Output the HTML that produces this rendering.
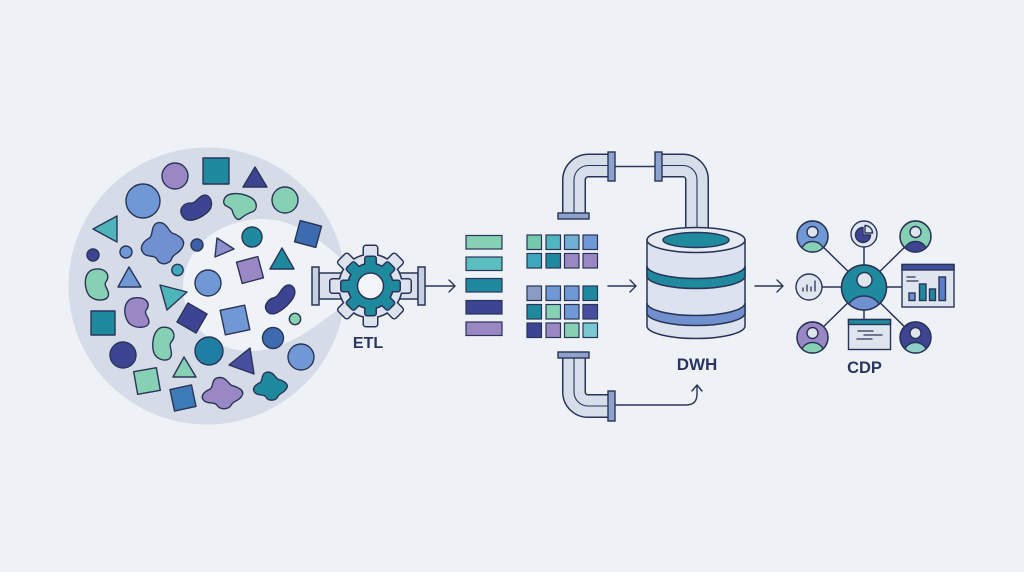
<!DOCTYPE html>
<html><head><meta charset="utf-8"><style>
html,body{margin:0;padding:0;background:#eef1f6;}
svg{display:block;}
text{font-family:"Liberation Sans",sans-serif;font-weight:bold;fill:#2b3561;}
</style></head><body>
<svg width="1024" height="572" viewBox="0 0 1024 572" xmlns="http://www.w3.org/2000/svg">
<defs>
<clipPath id="c1"><circle cx="812.5" cy="236.5" r="15.5"/></clipPath>
<clipPath id="c2"><circle cx="915.5" cy="236.5" r="15.5"/></clipPath>
<clipPath id="c3"><circle cx="812.5" cy="337.5" r="15.5"/></clipPath>
<clipPath id="c4"><circle cx="915.5" cy="337.5" r="15.5"/></clipPath>
<clipPath id="c5"><circle cx="864" cy="287.5" r="22.5"/></clipPath>
</defs>
<rect width="1024" height="572" fill="#eef1f6"/>

<!-- big source circle -->
<circle cx="207" cy="286" r="138.5" fill="#d5dce8"/>
<path d="M345,262 C320,240 295,219 262,219 C222,219 184,245 183,287 C183,325 215,352 252,351 C290,350 315,325 345,305 Z" fill="#eff2f7"/>

<!-- shapes -->
<g stroke="#2a3458" stroke-width="1.4" stroke-linejoin="round">
<circle cx="175" cy="176" r="13" fill="#9a88c4"/>
<rect x="203" y="158" width="26" height="26" fill="#1f8a9e"/>
<polygon points="255,167 243,187 267,187" fill="#3d4491"/>
<circle cx="143" cy="201" r="17" fill="#7098d4"/>
<path d="M-14,3 C-16,-6 -8,-10 -2,-6 C2,-4 6,-9 11,-8 C16,-7 17,1 12,6 C6,11 -12,12 -14,3Z" transform="translate(196,208) rotate(-25) scale(1.1,1.05)" fill="#3d4491" vector-effect="non-scaling-stroke"/>
<path d="M224,200 C226,192 240,192 250,197 C258,201 258,210 252,212 C246,214 244,216 240,219 C236,221 233,214 232,210 C230,206 222,207 224,200Z" fill="#86d0b4"/>
<circle cx="285" cy="200" r="13" fill="#86d0b4"/>
<polygon points="93,229 117,216 117,242" fill="#4db5b9"/>
<path d="M-4,-16 C3,-18 5,-10 8,-8 C14,-6 20,-2 16,4 C13,9 10,8 8,12 C6,18 -2,18 -4,13 C-6,9 -12,12 -15,8 C-19,3 -14,-2 -10,-4 C-7,-6 -9,-14 -4,-16Z" transform="translate(162,243) scale(1.25)" fill="#7090d0" vector-effect="non-scaling-stroke"/>
<circle cx="93" cy="255" r="6" fill="#3d4491"/>
<circle cx="126" cy="252" r="6" fill="#7098d4"/>
<circle cx="197" cy="245" r="6" fill="#3d5fa8"/>
<polygon points="217,238 215,257 234,249" fill="#8d8fcf"/>
<circle cx="252" cy="237" r="10" fill="#1f8a9e"/>
<rect x="-11" y="-11" width="22" height="22" transform="translate(308,234) rotate(15)" fill="#3d6bb0"/>
<circle cx="177.5" cy="270" r="5.7" fill="#3fa8bd"/>
<polygon points="282,248 270,269 294,269" fill="#1f8a9e"/>
<path d="M-14,3 C-16,-6 -8,-10 -2,-6 C2,-4 6,-9 11,-8 C16,-7 17,1 12,6 C6,11 -12,12 -14,3Z" transform="translate(98,284) rotate(90) scale(1.05,1.3)" fill="#86d0b4" vector-effect="non-scaling-stroke"/>
<polygon points="129,267 118,287 141,287" fill="#7098d4"/>
<circle cx="208" cy="283" r="13" fill="#7098d4"/>
<rect x="-11" y="-11" width="22" height="22" transform="translate(250,270) rotate(-15)" fill="#9a88c4"/>
<polygon points="160,285 187,292 167,310" fill="#4db5b9"/>
<path d="M-14,3 C-16,-6 -8,-10 -2,-6 C2,-4 6,-9 11,-8 C16,-7 17,1 12,6 C6,11 -12,12 -14,3Z" transform="translate(138,312) rotate(90) scale(1.0,1.35)" fill="#9a88c4" vector-effect="non-scaling-stroke"/>
<rect x="91" y="311" width="24" height="24" fill="#1f8a9e"/>
<rect x="-11" y="-11" width="22" height="22" transform="translate(192,318) rotate(30)" fill="#3d4491"/>
<rect x="-12.5" y="-12.5" width="25" height="25" transform="translate(235,320) rotate(-12)" fill="#7098d4"/>
<path d="M-14,3 C-16,-6 -8,-10 -2,-6 C2,-4 6,-9 11,-8 C16,-7 17,1 12,6 C6,11 -12,12 -14,3Z" transform="translate(280,300) rotate(-40) scale(1.2,0.9)" fill="#3d4491" vector-effect="non-scaling-stroke"/>
<circle cx="295" cy="319" r="5.7" fill="#86d0b4"/>
<path d="M-14,3 C-16,-6 -8,-10 -2,-6 C2,-4 6,-9 11,-8 C16,-7 17,1 12,6 C6,11 -12,12 -14,3Z" transform="translate(164,343) rotate(100) scale(1.1,1.15)" fill="#86d0b4" vector-effect="non-scaling-stroke"/>
<circle cx="209" cy="351" r="14" fill="#1f7fa3"/>
<circle cx="273" cy="338" r="10.5" fill="#3d6bb0"/>
<circle cx="123" cy="355" r="13" fill="#3d4491"/>
<polygon points="229,365 250,348 254,374" fill="#4a4e9e"/>
<circle cx="301" cy="357" r="13" fill="#7098d4"/>
<polygon points="184,357 173,377 196,377" fill="#86d0b4"/>
<rect x="-11.5" y="-11.5" width="23" height="23" transform="translate(147,381) rotate(-10)" fill="#86d0b4"/>
<rect x="-11" y="-11" width="22" height="22" transform="translate(183,398) rotate(-12)" fill="#3d7ab8"/>
<path d="M-4,-16 C3,-18 5,-10 8,-8 C14,-6 20,-2 16,4 C13,9 10,8 8,12 C6,18 -2,18 -4,13 C-6,9 -12,12 -15,8 C-19,3 -14,-2 -10,-4 C-7,-6 -9,-14 -4,-16Z" transform="translate(222,393) scale(1.2,0.95)" fill="#9a88c4" vector-effect="non-scaling-stroke"/>
<path d="M-4,-16 C3,-18 5,-10 8,-8 C14,-6 20,-2 16,4 C13,9 10,8 8,12 C6,18 -2,18 -4,13 C-6,9 -12,12 -15,8 C-19,3 -14,-2 -10,-4 C-7,-6 -9,-14 -4,-16Z" transform="translate(270,386) scale(1.0,0.85)" fill="#1f8a9e" vector-effect="non-scaling-stroke"/>
</g>

<!-- ETL pipe -->
<g stroke="#2a3458" stroke-width="1.5">
<rect x="319" y="273" width="99" height="26" fill="#d8dfeb"/>
<rect x="312" y="267" width="7" height="38" fill="#c6d0e1"/>
<rect x="418" y="267" width="7" height="38" fill="#c6d0e1"/>
</g>
<!-- gear -->
<g transform="translate(370.5,286)">
 <g fill="#dde3ee" stroke="#2a3458" stroke-width="3" stroke-linejoin="round">
  <circle r="31"/>
  <rect x="-6.5" y="-40" width="13" height="16" rx="2"/>
  <rect x="-6.5" y="-40" width="13" height="16" rx="2" transform="rotate(45)"/>
  <rect x="-6.5" y="-40" width="13" height="16" rx="2" transform="rotate(90)"/>
  <rect x="-6.5" y="-40" width="13" height="16" rx="2" transform="rotate(135)"/>
  <rect x="-6.5" y="-40" width="13" height="16" rx="2" transform="rotate(180)"/>
  <rect x="-6.5" y="-40" width="13" height="16" rx="2" transform="rotate(225)"/>
  <rect x="-6.5" y="-40" width="13" height="16" rx="2" transform="rotate(270)"/>
  <rect x="-6.5" y="-40" width="13" height="16" rx="2" transform="rotate(315)"/>
 </g>
 <g fill="#dde3ee">
  <circle r="31"/>
  <rect x="-6.5" y="-40" width="13" height="16" rx="2"/>
  <rect x="-6.5" y="-40" width="13" height="16" rx="2" transform="rotate(45)"/>
  <rect x="-6.5" y="-40" width="13" height="16" rx="2" transform="rotate(90)"/>
  <rect x="-6.5" y="-40" width="13" height="16" rx="2" transform="rotate(135)"/>
  <rect x="-6.5" y="-40" width="13" height="16" rx="2" transform="rotate(180)"/>
  <rect x="-6.5" y="-40" width="13" height="16" rx="2" transform="rotate(225)"/>
  <rect x="-6.5" y="-40" width="13" height="16" rx="2" transform="rotate(270)"/>
  <rect x="-6.5" y="-40" width="13" height="16" rx="2" transform="rotate(315)"/>
 </g>
 <g fill="#1f8a9e" stroke="#2a3458" stroke-width="3" stroke-linejoin="round">
  <circle r="22"/>
  <rect x="-5" y="-29" width="10" height="12" rx="1.5"/>
  <rect x="-5" y="-29" width="10" height="12" rx="1.5" transform="rotate(45)"/>
  <rect x="-5" y="-29" width="10" height="12" rx="1.5" transform="rotate(90)"/>
  <rect x="-5" y="-29" width="10" height="12" rx="1.5" transform="rotate(135)"/>
  <rect x="-5" y="-29" width="10" height="12" rx="1.5" transform="rotate(180)"/>
  <rect x="-5" y="-29" width="10" height="12" rx="1.5" transform="rotate(225)"/>
  <rect x="-5" y="-29" width="10" height="12" rx="1.5" transform="rotate(270)"/>
  <rect x="-5" y="-29" width="10" height="12" rx="1.5" transform="rotate(315)"/>
 </g>
 <g fill="#1f8a9e">
  <circle r="22"/>
  <rect x="-5" y="-29" width="10" height="12" rx="1.5"/>
  <rect x="-5" y="-29" width="10" height="12" rx="1.5" transform="rotate(45)"/>
  <rect x="-5" y="-29" width="10" height="12" rx="1.5" transform="rotate(90)"/>
  <rect x="-5" y="-29" width="10" height="12" rx="1.5" transform="rotate(135)"/>
  <rect x="-5" y="-29" width="10" height="12" rx="1.5" transform="rotate(180)"/>
  <rect x="-5" y="-29" width="10" height="12" rx="1.5" transform="rotate(225)"/>
  <rect x="-5" y="-29" width="10" height="12" rx="1.5" transform="rotate(270)"/>
  <rect x="-5" y="-29" width="10" height="12" rx="1.5" transform="rotate(315)"/>
 </g>
 <circle r="13" fill="#f3f5fa" stroke="#2a3458" stroke-width="1.5"/>
</g>
<text x="368" y="348" font-size="16" text-anchor="middle">ETL</text>

<!-- arrows -->
<g stroke="#2a3458" stroke-width="1.4" fill="none" stroke-linecap="round" stroke-linejoin="round">
<path d="M426,286 H455 M449,280 L455,286 L449,292"/>
<path d="M608,286 H636 M630,280 L636,286 L630,292"/>
<path d="M755,286 H783 M777,280 L783,286 L777,292"/>
<path d="M615,405 H686 Q697,405 697,394 V386 M692,391 L697,385 L702,391"/>
<path d="M615,166.5 H655"/>
</g>

<!-- bars -->
<g stroke="#2a3458" stroke-width="1.2">
<rect x="466" y="235.5" width="36" height="13.5" fill="#86d0b4"/>
<rect x="466" y="257" width="36" height="13.5" fill="#5cbfbf"/>
<rect x="466" y="278.5" width="36" height="13.5" fill="#1f8a9e"/>
<rect x="466" y="300.5" width="36" height="13.5" fill="#3d4491"/>
<rect x="466" y="322" width="36" height="13.5" fill="#9a88c4"/>
<!-- grid top -->
<rect x="527" y="235" width="14.5" height="14.5" fill="#74c8ac"/>
<rect x="546" y="235" width="14.5" height="14.5" fill="#4fb5c0"/>
<rect x="564.5" y="235" width="14.5" height="14.5" fill="#6fb0d4"/>
<rect x="583" y="235" width="14.5" height="14.5" fill="#7098d4"/>
<rect x="527" y="253.5" width="14.5" height="14.5" fill="#3fa8bd"/>
<rect x="546" y="253.5" width="14.5" height="14.5" fill="#1f8a9e"/>
<rect x="564.5" y="253.5" width="14.5" height="14.5" fill="#9a88c4"/>
<rect x="583" y="253.5" width="14.5" height="14.5" fill="#9a88c4"/>
<!-- grid bottom -->
<rect x="527" y="286" width="14.5" height="14.5" fill="#8a9cc4"/>
<rect x="546" y="286" width="14.5" height="14.5" fill="#7098d4"/>
<rect x="564.5" y="286" width="14.5" height="14.5" fill="#7098d4"/>
<rect x="583" y="286" width="14.5" height="14.5" fill="#1f8a9e"/>
<rect x="527" y="304.5" width="14.5" height="14.5" fill="#1f8a9e"/>
<rect x="546" y="304.5" width="14.5" height="14.5" fill="#86d0b4"/>
<rect x="564.5" y="304.5" width="14.5" height="14.5" fill="#7098d4"/>
<rect x="583" y="304.5" width="14.5" height="14.5" fill="#4a4e9e"/>
<rect x="527" y="323" width="14.5" height="14.5" fill="#3d4491"/>
<rect x="546" y="323" width="14.5" height="14.5" fill="#9a88c4"/>
<rect x="564.5" y="323" width="14.5" height="14.5" fill="#86d0b4"/>
<rect x="583" y="323" width="14.5" height="14.5" fill="#7ac8d0"/>
</g>

<!-- pipes -->
<g fill="none" stroke-linecap="butt">
<path d="M574,214 V180 A14.5,14.5 0 0 1 588.5,165.5 H609" stroke="#2a3458" stroke-width="24"/>
<path d="M574,214 V180 A14.5,14.5 0 0 1 588.5,165.5 H609" stroke="#d6deea" stroke-width="21"/>
<path d="M574,214 V180 A14.5,14.5 0 0 1 588.5,165.5 H609" stroke="#2a3458" stroke-width="1.1"/>
<path d="M661,165.5 H683 A14,14 0 0 1 697,179.5 V235" stroke="#2a3458" stroke-width="24"/>
<path d="M661,165.5 H683 A14,14 0 0 1 697,179.5 V235" stroke="#d6deea" stroke-width="21"/>
<path d="M661,165.5 H683 A14,14 0 0 1 697,179.5 V235" stroke="#2a3458" stroke-width="1.1"/>
<path d="M574,357 V392 A14,14 0 0 0 588,406 H609" stroke="#2a3458" stroke-width="24"/>
<path d="M574,357 V392 A14,14 0 0 0 588,406 H609" stroke="#d6deea" stroke-width="21"/>
<path d="M574,357 V392 A14,14 0 0 0 588,406 H609" stroke="#2a3458" stroke-width="1.1"/>
</g>
<g stroke="#2a3458" stroke-width="1.4" fill="#8ea3cc">
<rect x="558" y="213" width="31" height="6"/>
<rect x="608" y="152" width="7" height="29"/>
<rect x="655" y="152" width="7" height="29"/>
<rect x="558" y="352" width="31" height="6"/>
<rect x="608" y="391" width="7" height="30"/>
</g>

<!-- DWH -->
<g stroke="#2a3458" stroke-width="1.5">
<path d="M647,240 V326 A49,12.5 0 0 0 745,326 V240 Z" fill="#dde3ee"/>
<path d="M647,266 A49,12.5 0 0 0 745,266 V276 A49,12.5 0 0 1 647,276 Z" fill="#1f8a9e"/>
<path d="M647,303 A49,12.5 0 0 0 745,303 V313 A49,12.5 0 0 1 647,313 Z" fill="#7090d0"/>
<ellipse cx="696" cy="240" rx="49" ry="12.5" fill="#e6ebf3"/>
<ellipse cx="696" cy="240" rx="33" ry="7.5" fill="#1f8a9e"/>
</g>
<text x="697" y="370" font-size="17" text-anchor="middle">DWH</text>

<!-- CDP connectors -->
<g stroke="#2a3458" stroke-width="1.5">
<line x1="864" y1="287" x2="812.5" y2="236.5"/>
<line x1="864" y1="287" x2="864" y2="234"/>
<line x1="864" y1="287" x2="915.5" y2="236.5"/>
<line x1="864" y1="287" x2="809" y2="287"/>
<line x1="864" y1="287" x2="905" y2="287"/>
<line x1="864" y1="287" x2="864" y2="320"/>
<line x1="864" y1="287" x2="812.5" y2="337.5"/>
<line x1="864" y1="287" x2="915.5" y2="337.5"/>
</g>
<g stroke="#2a3458" stroke-width="1.4">
<!-- top-left person -->
<circle cx="812.5" cy="236.5" r="15.5" fill="#7098d4"/>
<ellipse cx="812.5" cy="251" rx="11" ry="9.5" fill="#86d0b4" clip-path="url(#c1)"/>
<circle cx="812.5" cy="232" r="5.5" fill="#dfe5ef"/>
<circle cx="812.5" cy="236.5" r="15.5" fill="none"/>
<!-- top-right person -->
<circle cx="915.5" cy="236.5" r="15.5" fill="#86d0b4"/>
<ellipse cx="915.5" cy="251" rx="11" ry="9.5" fill="#3d4491" clip-path="url(#c2)"/>
<circle cx="915.5" cy="232" r="5.5" fill="#dfe5ef"/>
<circle cx="915.5" cy="236.5" r="15.5" fill="none"/>
<!-- bottom-left -->
<circle cx="812.5" cy="337.5" r="15.5" fill="#9a88c4"/>
<ellipse cx="812.5" cy="352" rx="11" ry="9.5" fill="#86d0b4" clip-path="url(#c3)"/>
<circle cx="812.5" cy="333" r="5.5" fill="#dfe5ef"/>
<circle cx="812.5" cy="337.5" r="15.5" fill="none"/>
<!-- bottom-right -->
<circle cx="915.5" cy="337.5" r="15.5" fill="#3d4491"/>
<ellipse cx="915.5" cy="352" rx="11" ry="9.5" fill="#8fd0c8" clip-path="url(#c4)"/>
<circle cx="915.5" cy="333" r="5.5" fill="#dfe5ef"/>
<circle cx="915.5" cy="337.5" r="15.5" fill="none"/>
<!-- center -->
<circle cx="864" cy="287.5" r="22.5" fill="#1f8a9e"/>
<ellipse cx="864" cy="311" rx="17" ry="15" fill="#7090d0" clip-path="url(#c5)"/>
<circle cx="864.5" cy="280" r="7.5" fill="#dfe5ef"/>
<circle cx="864" cy="287.5" r="22.5" fill="none"/>
<!-- pie -->
<circle cx="864" cy="234" r="13" fill="#dfe5ef"/>
<path d="M863,235 V227.5 A7.5,7.5 0 1 0 870.5,235 Z" fill="#3d4491"/>
<path d="M865,233 V225.5 A7.5,7.5 0 0 1 872.5,233 Z" fill="#dfe5ef"/>
<!-- chart circle -->
<circle cx="809" cy="287" r="13" fill="#dfe5ef"/>
<!-- dashboard -->
<rect x="902" y="264.5" width="52" height="42.5" fill="#dfe5ef"/>
<rect x="902" y="264.5" width="52" height="5.5" fill="#3d4f9a"/>
<rect x="909" y="293" width="6" height="7.5" fill="#7090d0"/>
<rect x="919.5" y="284" width="6.5" height="16.5" fill="#1f8a9e"/>
<rect x="929.5" y="289" width="6" height="11.5" fill="#1f8a9e"/>
<rect x="939" y="277" width="6.5" height="23.5" fill="#5a7fc8"/>
<!-- card -->
<rect x="848.5" y="319.5" width="42" height="30" fill="#dfe5ef"/>
<rect x="848.5" y="319.5" width="42" height="5" fill="#1f8a9e"/>
</g>
<g stroke="#2a3458" stroke-width="1.3" stroke-linecap="round">
<line x1="803" y1="291" x2="803" y2="288"/>
<line x1="807" y1="291" x2="807" y2="285"/>
<line x1="811" y1="291" x2="811" y2="287"/>
<line x1="815" y1="291" x2="815" y2="281"/>
<line x1="907" y1="277" x2="915" y2="277"/>
<line x1="907" y1="281" x2="918" y2="281"/>
<line x1="858" y1="331" x2="873" y2="331"/>
<line x1="864" y1="335" x2="882" y2="335"/>
<line x1="857" y1="339" x2="872" y2="339"/>
</g>
<text x="864.5" y="373" font-size="16.5" text-anchor="middle">CDP</text>
</svg>
</body></html>
